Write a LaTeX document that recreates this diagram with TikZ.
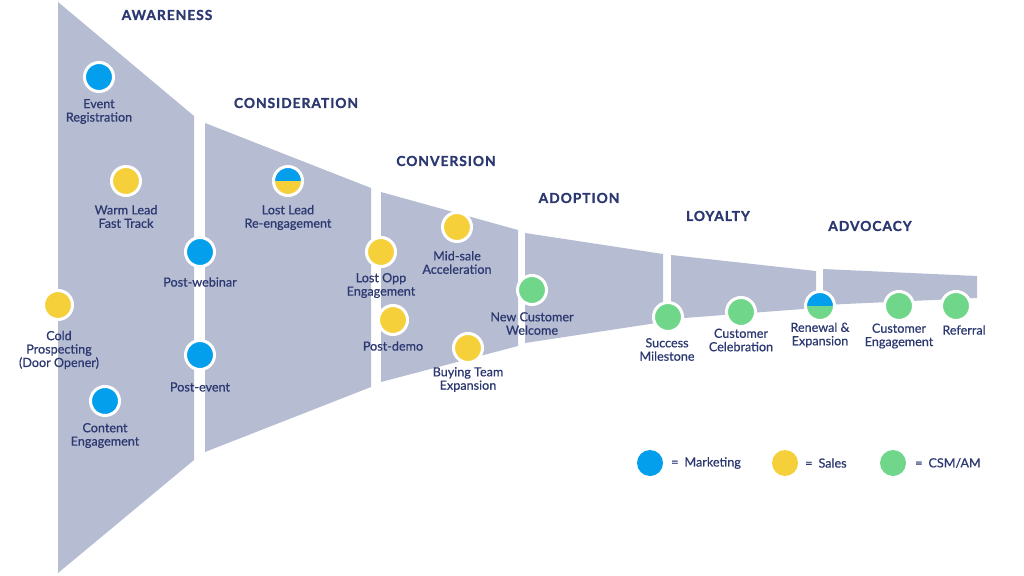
\documentclass[tikz,border=0pt]{standalone}
\usepackage{fontspec}
\setmainfont{Lato}
\newfontfamily\lblfont[FakeBold=0.6]{Lato}
\newfontfamily\titlefont[LetterSpace=7,BoldFeatures={FakeBold=1.2}]{Lato}
\definecolor{funnel}{RGB}{182,188,210}
\definecolor{mkt}{RGB}{3,158,236}
\definecolor{sal}{RGB}{245,208,58}
\definecolor{csm}{RGB}{112,214,138}
\definecolor{ink}{RGB}{44,56,112}
\tikzset{
  dot/.style={circle, minimum size=29pt, inner sep=0pt, draw=white, line width=3pt},
  mdot/.style={dot, fill=mkt},
  sdot/.style={dot, fill=sal},
  cdot/.style={dot, fill=csm},
  halfdot/.style 2 args={dot, path picture={
     \fill[#1] (path picture bounding box.north west) rectangle (path picture bounding box.east);
     \fill[#2] (path picture bounding box.west) rectangle (path picture bounding box.south east);}},
  legdot/.style={circle, minimum size=26pt, inner sep=0pt, fill=#1},
  lbl/.style={text=ink, align=center, inner sep=0pt, font=\lblfont\fontsize{12.6}{13.4}\selectfont},
  stage/.style={text=ink, inner sep=0pt, font=\titlefont\bfseries\fontsize{13.8}{15}\selectfont},
  legtext/.style={text=ink, anchor=west, inner sep=0pt, font=\lblfont\fontsize{12.6}{13}\selectfont}
}
\begin{document}
\begin{tikzpicture}[x=1pt,y=-1pt]
\useasboundingbox (0,0) rectangle (1024,575);
% funnel segments
\fill[funnel] (58,2) -- (194,116) -- (194,460) -- (58,573) -- cycle;
\fill[funnel] (205,123) -- (371,188) -- (371,387) -- (205,452) -- cycle;
\fill[funnel] (381,192) -- (518,230) -- (518,346) -- (381,382) -- cycle;
\fill[funnel] (525,233) -- (663,254) -- (663,322) -- (525,343) -- cycle;
\fill[funnel] (671,255) -- (816,271) -- (816,308) -- (671,319) -- cycle;
\fill[funnel] (823,269) -- (977,276) -- (977,298) -- (823,305) -- cycle;
% stage titles
\node[stage] (tAw) at (167,15) {AWARENESS};
\node[stage] (tCo) at (296,103) {CONSIDERATION};
\node[stage] (tCv) at (446,161) {CONVERSION};
\node[stage] (tAd) at (579,198) {ADOPTION};
\node[stage] (tLo) at (718,216) {LOYALTY};
\node[stage] (tAv) at (870,226) {ADVOCACY};
% touchpoints
\node[mdot] (er) at (99,77) {};
\node[lbl] (erL) at (99,111.5) {Event\\Registration};
\node[sdot] (wl) at (126,181) {};
\node[lbl] (wlL) at (126,216.5) {Warm Lead\\Fast Track};
\node[mdot] (pw) at (200,252) {};
\node[lbl] (pwL) at (200,282) {Post-webinar};
\node[halfdot={mkt}{sal}] (ll) at (288,181) {};
\node[lbl] (llL) at (288,217.5) {Lost Lead\\Re-engagement};
\node[sdot] (cp) at (58,305) {};
\node[lbl] (cpL) at (59,350) {Cold\\Prospecting\\(Door Opener)};
\node[mdot] (pe) at (200,355) {};
\node[lbl] (peL) at (200,387) {Post-event};
\node[mdot] (ce) at (105,401) {};
\node[lbl] (ceL) at (105,435.5) {Content\\Engagement};
\node[sdot] (lo) at (381,252) {};
\node[lbl] (loL) at (381,285.5) {Lost Opp\\Engagement};
\node[sdot] (pd) at (393,320) {};
\node[lbl] (pdL) at (393,346) {Post-demo};
\node[sdot] (ms) at (457,227) {};
\node[lbl] (msL) at (457,262.5) {Mid-sale\\Acceleration};
\node[sdot] (bt) at (468,348) {};
\node[lbl] (btL) at (468,379.5) {Buying Team\\Expansion};
\node[cdot] (nc) at (532,290) {};
\node[lbl] (ncL) at (532,323.5) {New Customer\\Welcome};
\node[cdot] (sm) at (668,317) {};
\node[lbl] (smL) at (667,349.5) {Success\\Milestone};
\node[cdot] (cc) at (741,312) {};
\node[lbl] (ccL) at (741,340) {Customer\\Celebration};
\node[halfdot={mkt}{csm}] (re) at (820,306) {};
\node[lbl] (reL) at (820,335) {Renewal \&\\Expansion};
\node[cdot] (cu) at (899,306) {};
\node[lbl] (cuL) at (899,336) {Customer\\Engagement};
\node[cdot] (rf) at (956,306) {};
\node[lbl] (rfL) at (964,330) {Referral};
% legend
\node[legdot=mkt] (lgM) at (650,463) {};
\node[legtext] (lgMt) at (671,463) {=\hspace{6pt}Marketing};
\node[legdot=sal] (lgS) at (785,463) {};
\node[legtext] (lgSt) at (805,463) {=\hspace{6pt}Sales};
\node[legdot=csm] (lgC) at (893,463) {};
\node[legtext] (lgCt) at (915,463) {=\hspace{6pt}CSM/AM};
\end{tikzpicture}
\end{document}
